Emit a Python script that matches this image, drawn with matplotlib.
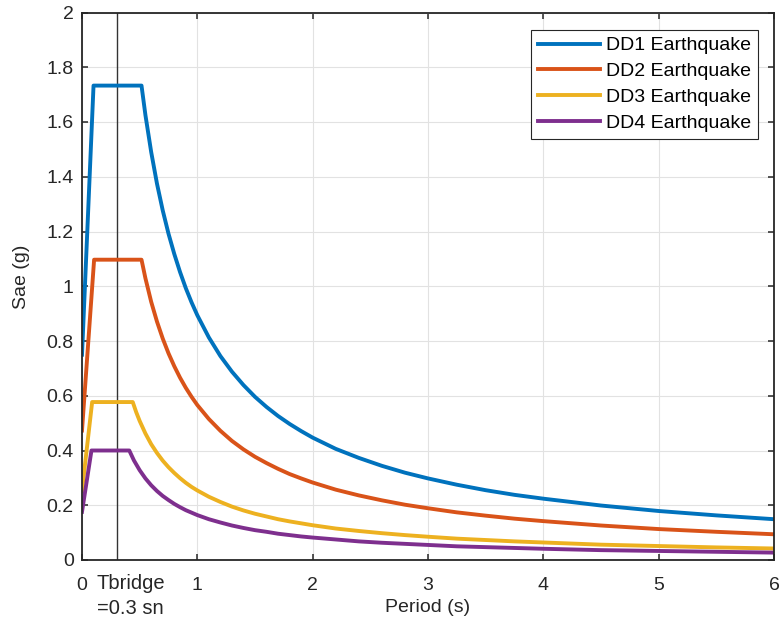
import matplotlib
matplotlib.use("Agg")
import matplotlib.pyplot as plt

plt.rcParams['font.family'] = ['Liberation Sans', 'DejaVu Sans']

labels = ["DD1 Earthquake", "DD2 Earthquake", "DD3 Earthquake", "DD4 Earthquake"]
colors = ["#0072BD", "#D95319", "#EDB120", "#7E2F8E"]

# periods shared by the descending branch of every curve
period_tail = [0.55, 0.6, 0.65, 0.7, 0.75, 0.8, 0.85, 0.9, 0.95, 1.0, 1.1, 1.2, 1.3, 1.4, 1.5,
               1.6, 1.7, 1.8, 1.9, 2.0, 2.2, 2.4, 2.6, 2.8, 3.0, 3.25, 3.5, 3.75, 4.0, 4.5,
               5.0, 5.5, 6.0]

period_dd1_head = [0.0, 0.10, 0.516]
sae_dd1_head = [0.75, 1.733, 1.733]
sae_dd1_tail = [1.625, 1.490, 1.375, 1.277, 1.192, 1.118, 1.052, 0.993, 0.941, 0.894, 0.813, 0.745,
                0.688, 0.639, 0.596, 0.559, 0.526, 0.497, 0.471, 0.447, 0.406, 0.373, 0.344, 0.319,
                0.298, 0.275, 0.255, 0.238, 0.224, 0.199, 0.179, 0.163, 0.149]

period_dd2_head = [0.0, 0.105, 0.516]
sae_dd2_head = [0.473, 1.097, 1.097]
sae_dd2_tail = [1.029, 0.943, 0.871, 0.809, 0.755, 0.708, 0.666, 0.629, 0.596, 0.566, 0.515, 0.472,
                0.435, 0.404, 0.377, 0.354, 0.333, 0.314, 0.298, 0.283, 0.257, 0.236, 0.218, 0.202,
                0.189, 0.174, 0.162, 0.151, 0.142, 0.126, 0.113, 0.103, 0.094]

period_dd3_head = [0.0, 0.088, 0.44, 0.47, 0.5]
sae_dd3_head = [0.253, 0.577, 0.577, 0.540, 0.508]
sae_dd3_tail = [0.462, 0.423, 0.391, 0.363, 0.339, 0.318, 0.299, 0.282, 0.267, 0.254, 0.231, 0.212,
                0.195, 0.181, 0.169, 0.159, 0.149, 0.141, 0.134, 0.127, 0.115, 0.106, 0.098, 0.091,
                0.085, 0.078, 0.073, 0.068, 0.064, 0.056, 0.051, 0.046, 0.042]

period_dd4_head = [0.0, 0.082, 0.41, 0.45, 0.5]
sae_dd4_head = [0.176, 0.40, 0.40, 0.364, 0.328]
sae_dd4_tail = [0.298, 0.273, 0.252, 0.234, 0.219, 0.205, 0.193, 0.182, 0.173, 0.164, 0.149, 0.137,
                0.126, 0.117, 0.109, 0.103, 0.096, 0.091, 0.086, 0.082, 0.075, 0.068, 0.063, 0.059,
                0.055, 0.050, 0.047, 0.044, 0.041, 0.036, 0.033, 0.030, 0.027]

t_bridge = 0.3
x_ticks = [0, 1, 2, 3, 4, 5, 6]
y_ticks = [0, 0.2, 0.4, 0.6, 0.8, 1.0, 1.2, 1.4, 1.6, 1.8, 2.0]
y_ticklabels = ["0", "0.2", "0.4", "0.6", "0.8", "1", "1.2", "1.4", "1.6", "1.8", "2"]

fig = plt.figure(figsize=(7.81, 6.30), dpi=100)
ax = fig.add_axes([82/781, 70/630, 692/781, 547.5/630])

series = [
    (period_dd1_head + period_tail, sae_dd1_head + sae_dd1_tail),
    (period_dd2_head + period_tail, sae_dd2_head + sae_dd2_tail),
    (period_dd3_head + period_tail, sae_dd3_head + sae_dd3_tail),
    (period_dd4_head + period_tail, sae_dd4_head + sae_dd4_tail),
]
for (t, s), lab, c in zip(series, labels, colors):
    ax.plot(t, s, color=c, lw=2.8, label=lab, solid_joinstyle='round')

ax.axvline(t_bridge, color="#333333", lw=1.0, zorder=1)

ax.set_xlim(0, 6)
ax.set_ylim(0, 2)
ax.set_xticks(x_ticks)
ax.set_xticklabels([str(v) for v in x_ticks])
ax.set_yticks(y_ticks)
ax.set_yticklabels(y_ticklabels)
ax.grid(True, color="#e2e2e2", lw=0.8)
ax.set_axisbelow(True)
ax.tick_params(direction='in', length=4.5, width=1.1, top=True, right=True,
               labelsize=14, colors="#262626")
ax.tick_params(axis='x', pad=12)
ax.tick_params(axis='y', pad=6)
for sp in ax.spines.values():
    sp.set_color("#262626")
    sp.set_linewidth(1.3)

ax.set_xlabel("Period (s)", fontsize=14, color="#262626")
ax.xaxis.set_label_coords(0.5, -0.087)
ax.xaxis.label.set_va('center')
ax.set_ylabel("Sae (g)", fontsize=14, color="#262626")
ax.yaxis.set_label_coords(-0.088, 0.517)
ax.yaxis.label.set_va('center')
ax.yaxis.label.set_ha('center')

ax.text(t_bridge - 0.17, -0.052, "Tbridge\n=0.3 sn", fontsize=14.5, color="#262626",
        va='top', ha='left', linespacing=1.4)

leg = ax.legend(loc='upper right', fontsize=14, handlelength=3.2, frameon=True,
                fancybox=False, borderpad=0.35, labelspacing=0.42, handletextpad=0.3,
                bbox_to_anchor=(0.977, 0.968), borderaxespad=0.0)
leg.get_frame().set_edgecolor("#262626")
leg.get_frame().set_linewidth(0.8)
leg.get_frame().set_alpha(1)

fig.savefig("out.png", dpi=100)
